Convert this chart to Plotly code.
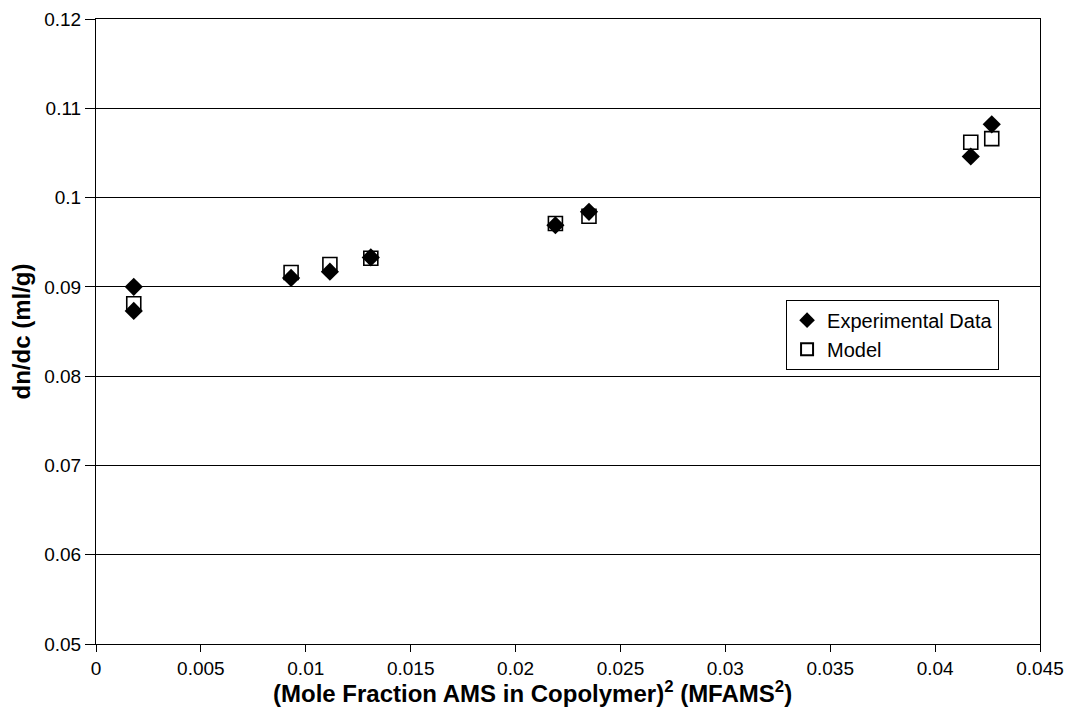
import plotly.graph_objects as go

exp_x = [0.0018, 0.0018, 0.0093, 0.01115, 0.0131, 0.0219, 0.0235, 0.0417, 0.0427]
exp_y = [0.0900, 0.0873, 0.0910, 0.0917, 0.0933, 0.0969, 0.0984, 0.1046, 0.1082]
model_x = [0.0018, 0.0093, 0.01115, 0.0131, 0.0219, 0.0235, 0.0417, 0.0427]
model_y = [0.0881, 0.0916, 0.0925, 0.0932, 0.0971, 0.0979, 0.1062, 0.1066]
x_ticks = [0, 0.005, 0.01, 0.015, 0.02, 0.025, 0.03, 0.035, 0.04, 0.045]
x_labels = ["0", "0.005", "0.01", "0.015", "0.02", "0.025", "0.03", "0.035", "0.04", "0.045"]
y_ticks = [0.05, 0.06, 0.07, 0.08, 0.09, 0.1, 0.11, 0.12]
y_labels = ["0.05", "0.06", "0.07", "0.08", "0.09", "0.1", "0.11", "0.12"]
x_title = "(Mole Fraction AMS in Copolymer)<sup>2</sup> (MFAMS<sup>2</sup>)"
y_title = "dn/dc (ml/g)"

FONT = "Arial, Liberation Sans, sans-serif"

fig = go.Figure()
fig.add_trace(go.Scatter(
    x=model_x, y=model_y, mode="markers", name="Model", legendrank=2,
    marker=dict(symbol="square-open", size=14, color="black", line=dict(width=1.6, color="black")),
))
fig.add_trace(go.Scatter(
    x=exp_x, y=exp_y, mode="markers", name="Experimental Data", legendrank=1,
    marker=dict(symbol="diamond", size=14, color="black"),
))

tick_font = dict(family=FONT, size=19, color="black")
title_font = dict(family=FONT, size=24, color="black", weight="bold")
fig.update_layout(
    width=1065, height=721,
    margin=dict(l=96, r=25, t=19, b=77, autoexpand=False),
    paper_bgcolor="white", plot_bgcolor="white",
    font=dict(family=FONT, color="black"),
    showlegend=True,
    legend=dict(
        x=0.731, y=0.551, xanchor="left", yanchor="top",
        bordercolor="black", borderwidth=1, bgcolor="white",
        font=dict(family=FONT, size=20, color="black"),
        itemsizing="constant", tracegroupgap=0, itemwidth=30,
    ),
    xaxis=dict(
        range=[0, 0.045], tickvals=x_ticks, ticktext=x_labels, automargin=False,
        showgrid=False, zeroline=False, showline=True, linecolor="black", linewidth=1, mirror=True,
        ticks="outside", ticklen=7, tickcolor="black", tickfont=tick_font,
        ticklabeloverflow="allow",
    ),
    yaxis=dict(
        range=[0.05, 0.12], tickvals=y_ticks, ticktext=y_labels, automargin=False,
        showgrid=True, gridcolor="black", gridwidth=1, zeroline=False,
        showline=True, linecolor="black", linewidth=1, mirror=True,
        ticks="outside", ticklen=10, tickcolor="black", tickfont=tick_font,
        title=dict(text=y_title, font=title_font, standoff=6),
    ),
    annotations=[dict(
        text=x_title, font=title_font, showarrow=False,
        xref="paper", yref="paper", x=0.462, y=-0.0768,
        xanchor="center", yanchor="middle",
    )],
)

fig.write_html("out.html", config={"displayModeBar": False},
               post_script="document.body.style.margin='0';document.body.style.overflow='hidden';")
